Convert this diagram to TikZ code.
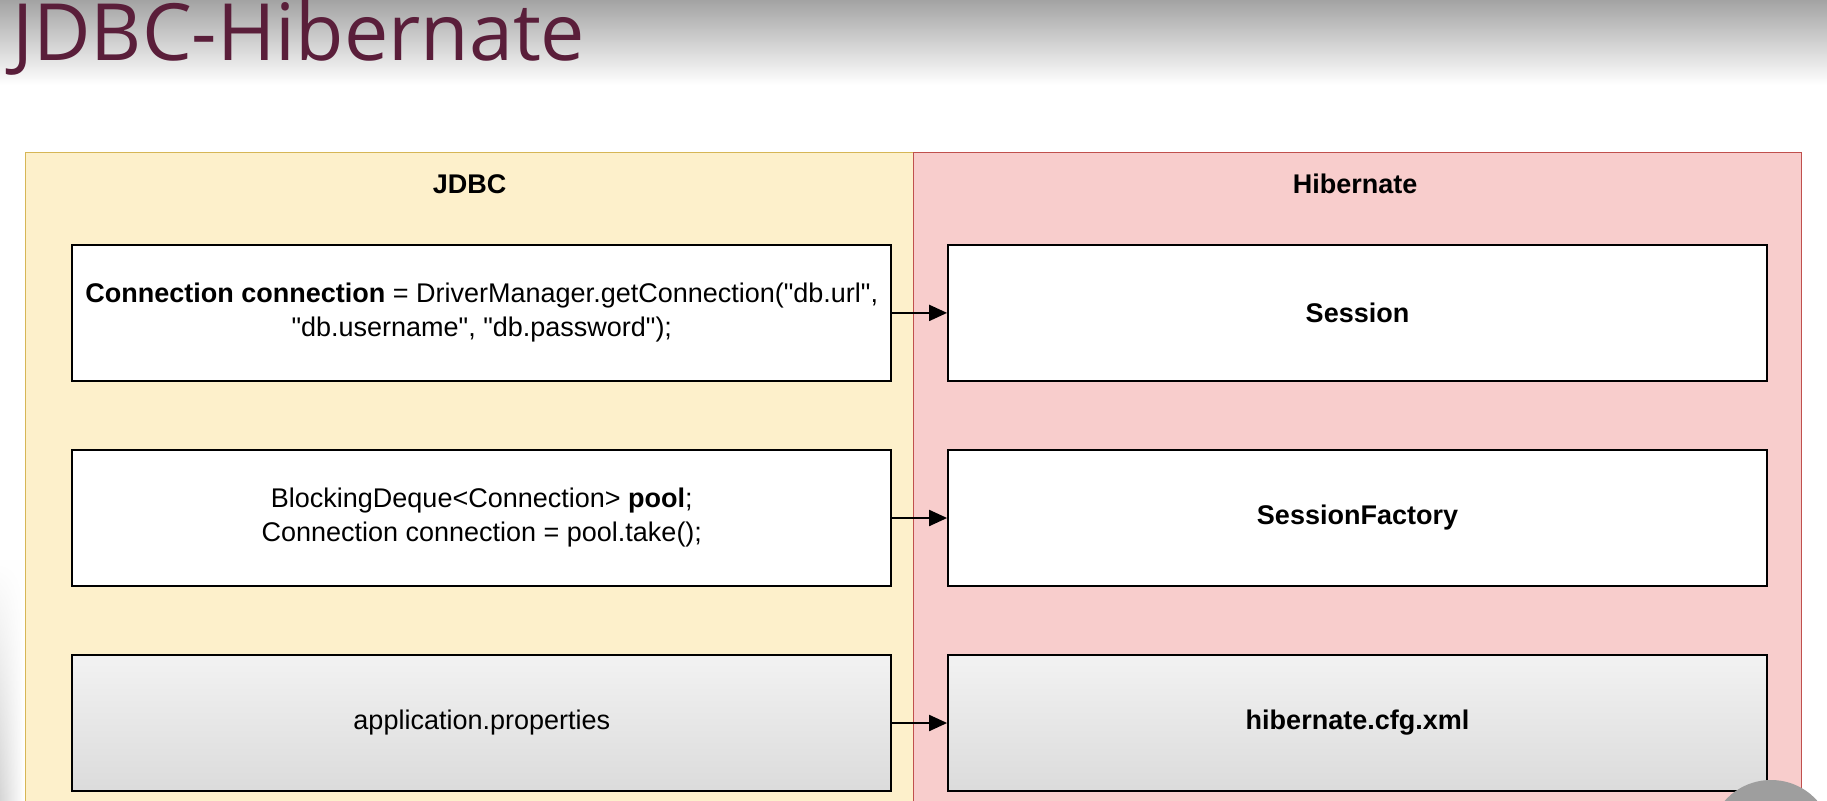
\documentclass[tikz,border=0pt]{standalone}
\usepackage{fontspec}
\setmainfont{Liberation Sans}[Ligatures=TeXOff]
\newfontfamily\titlefont{Open Sans}
\usetikzlibrary{arrows.meta,fadings}
\definecolor{titlecol}{HTML}{5A1E3A}
\definecolor{jdbcfill}{HTML}{FDF0CB}
\definecolor{jdbcline}{HTML}{D6B656}
\definecolor{hibfill}{HTML}{F8CDCC}
\definecolor{hibline}{HTML}{C0504D}
\tikzset{
  lane/.style={line width=1.2pt},
  codebox/.style={draw=black, line width=1.8pt, fill=white, minimum width=819pt, minimum height=136pt, inner sep=0pt, align=center, font=\fontsize{27}{34}\selectfont},
  filebox/.style={codebox, fill=none},
  header/.style={font=\fontsize{27}{34}\selectfont\bfseries},
  conn/.style={-{Triangle[length=18pt,width=16pt]}, line width=2pt, black}
}
\begin{document}
\begin{tikzpicture}[x=1pt,y=-1pt]
\clip (0,0) rectangle (1827,800);
\fill[white] (0,0) rectangle (1827,800);
\shade[top color=black!36, bottom color=white] (0,0) rectangle (1827,85);
\shade[left color=black!16, right color=white, path fading=north] (0,560) rectangle (24,800);
% title
\node[anchor=base west, inner sep=0pt, text=titlecol, font=\titlefont\fontsize{79}{86}\selectfont] (title) at (12,60) {JDBC-Hibernate};
% lanes
\draw[lane, draw=jdbcline, fill=jdbcfill] (25.6,152.6) rectangle (913.5,820);
\draw[lane, draw=hibline, fill=hibfill] (913.5,152.6) rectangle (1801.4,820);
\node[header] (hj) at (469.6,184) {JDBC};
\node[header] (hh) at (1355.1,184) {Hibernate};
% boxes
\node[codebox] (l1) at (481.8,312.9) {\textbf{Connection connection} = DriverManager.getConnection("db.url",\\"db.username", "db.password");};
\node[codebox] (l2) at (481.8,518) {BlockingDeque<Connection> \textbf{pool};\\Connection connection = pool.take();};
\shade[top color=black!5, bottom color=black!14] (72.2,654.8) rectangle (891.4,791.2);
\node[filebox] (l3) at (481.8,723) {application.properties};
\node[codebox] (r1) at (1357.5,312.9) {\textbf{Session}};
\node[codebox] (r2) at (1357.5,518) {\textbf{SessionFactory}};
\shade[top color=black!5, bottom color=black!14] (947.3,654.8) rectangle (1767.6,791.2);
\node[filebox] (r3) at (1357.5,723) {\textbf{hibernate.cfg.xml}};
% connectors
\draw[conn] (l1) -- (r1);
\draw[conn] (l2) -- (r2);
\draw[conn] (l3) -- (r3);
% overlay circle bottom right
\fill[black!38] (1771,842) circle (62);
\end{tikzpicture}
\end{document}
